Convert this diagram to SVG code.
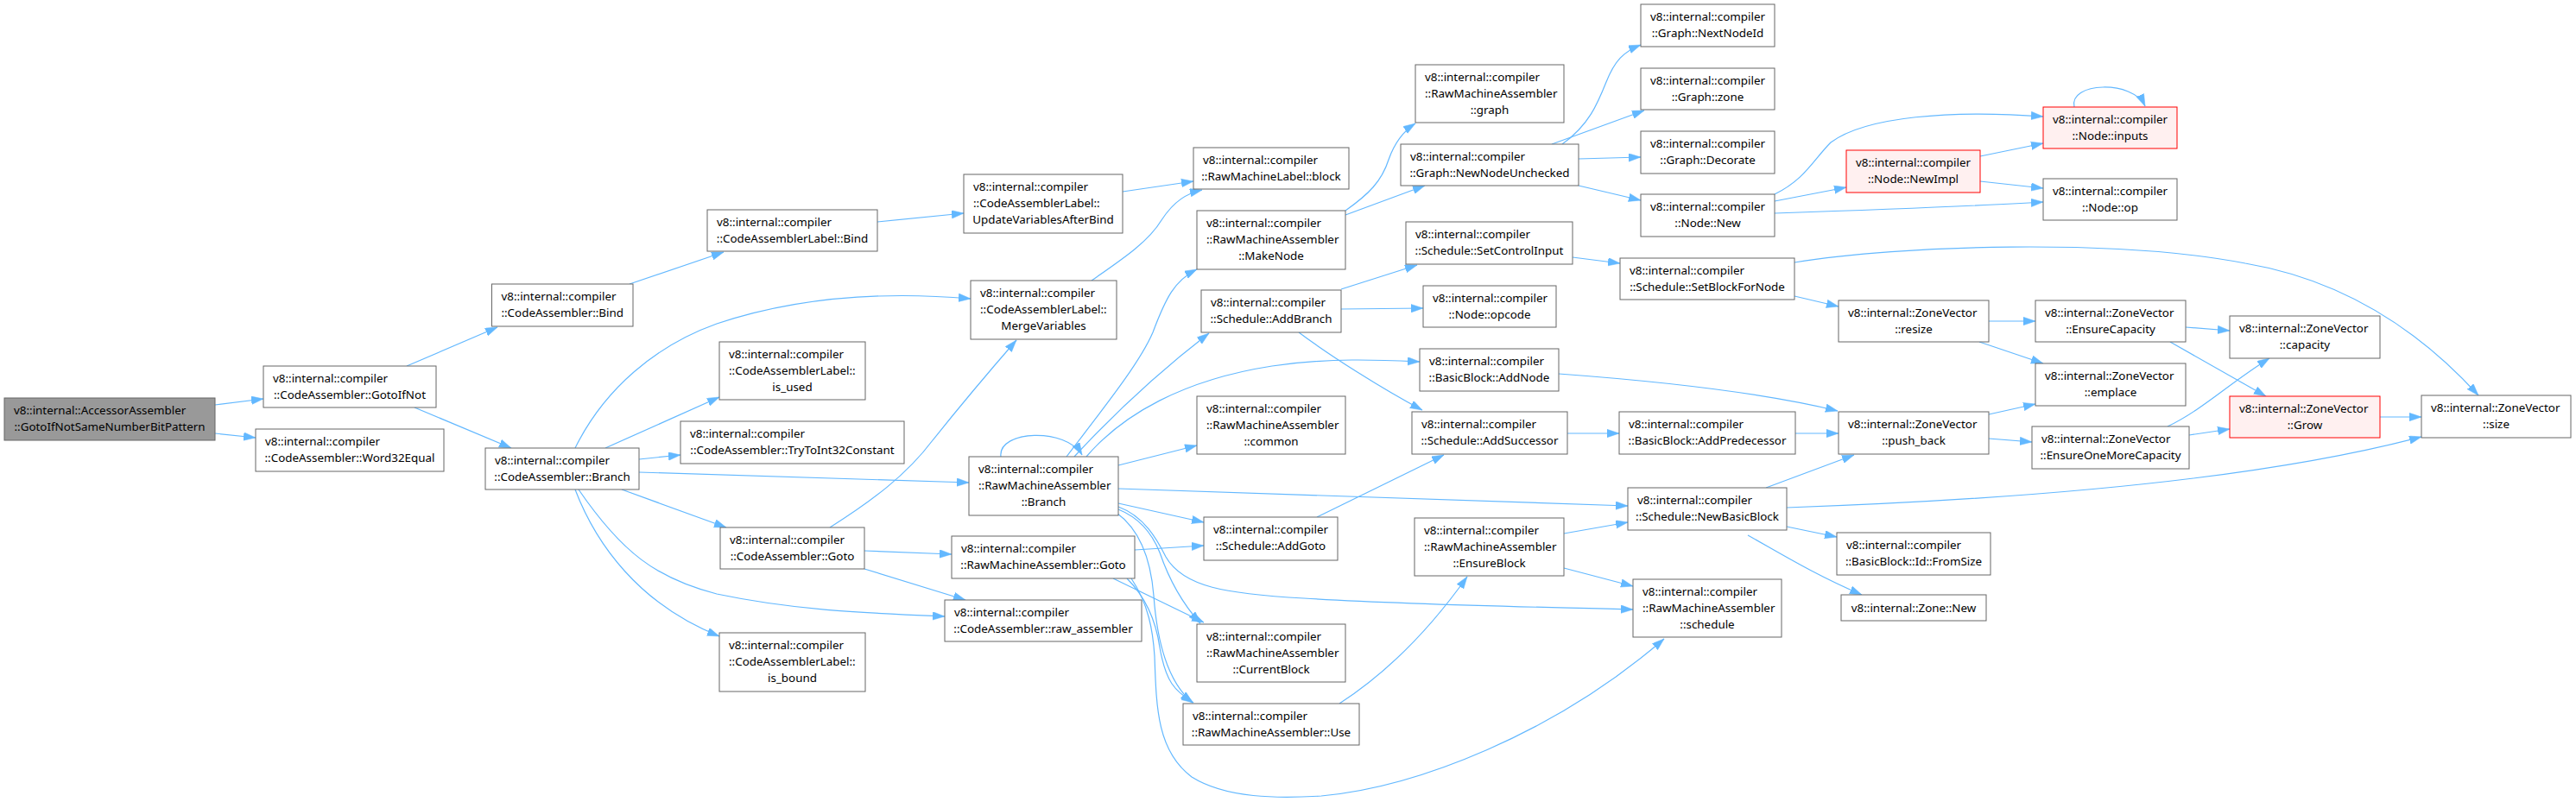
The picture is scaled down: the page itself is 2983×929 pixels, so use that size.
<svg xmlns="http://www.w3.org/2000/svg" width="2983" height="929" viewBox="0 0 2983 929">
<style>
rect{fill:#fff;stroke:#666;stroke-width:1}
.root rect{fill:#999}
.red rect{fill:#fff0f0;stroke:#f00}
text{font-family:"Noto Sans","Open Sans","DejaVu Sans",sans-serif;font-size:13.4px;fill:#000}
.c{text-anchor:middle}
#edges path{fill:none;stroke:#63b8ff;stroke-width:1.2;marker-end:url(#arr)}
</style>
<defs>
<marker id="arr" markerUnits="userSpaceOnUse" markerWidth="15" markerHeight="10" refX="14" refY="4.75" orient="auto">
<path d="M0,0 L14,4.75 L0,9.5 z" fill="#63b8ff" stroke="#63b8ff" stroke-width="0.5"/>
</marker>
</defs>
<rect x="0" y="0" width="2983" height="929" style="fill:#fff;stroke:none"/>
<g id="edges">
<path d="M249,469 L305,462"/>
<path d="M249,502 L296,507"/>
<path d="M471,424 L576,379"/>
<path d="M480,472 L592,519"/>
<path d="M729,329 L838,292"/>
<path d="M1016,257 L1116,247"/>
<path d="M1300,222 L1382,210"/>
<path d="M666,519 C700,450 760,400 830,375 C920,345 1020,337 1124,346"/>
<path d="M701,519 L833,460"/>
<path d="M740,532 L788,527"/>
<path d="M740,547 L1122,559"/>
<path d="M720,567 L841,611"/>
<path d="M670,567 C720,640 760,670 830,688 C920,707 1000,710 1094,714"/>
<path d="M666,567 C690,630 740,700 833,737"/>
<path d="M1264,325 C1300,300 1330,280 1345,255 C1360,232 1375,224 1392,220"/>
<path d="M961,611 C1010,580 1050,550 1080,510 C1120,460 1150,425 1177,394"/>
<path d="M1001,638 L1102,642"/>
<path d="M1001,659 L1118,695"/>
<path d="M1159,529 C1155,498 1235,495 1253,527"/>
<path d="M1235,529 C1280,470 1320,420 1335,385 C1350,345 1360,325 1386,312"/>
<path d="M1244,529 C1280,490 1330,440 1400,386"/>
<path d="M1258,529 C1300,480 1370,440 1473,424 C1540,414 1600,417 1644,419"/>
<path d="M1295,539 L1386,516"/>
<path d="M1295,566 C1500,573 1700,580 1885,586"/>
<path d="M1295,583 L1394,605"/>
<path d="M1295,590 C1320,600 1335,620 1343,640 C1355,675 1370,700 1390,722"/>
<path d="M1293,594 C1315,610 1332,640 1336,690 C1340,745 1352,790 1381,814"/>
<path d="M1295,587 C1325,598 1340,625 1350,645 C1370,680 1420,688 1510,693 C1640,701 1780,703 1891,706"/>
<path d="M1310,670 C1330,700 1335,730 1337,760 C1339,820 1340,870 1380,900 C1420,925 1480,925 1530,922 C1640,912 1800,850 1927,740"/>
<path d="M1314,637 L1394,632"/>
<path d="M1289,670 L1394,721"/>
<path d="M1305,670 C1325,690 1338,715 1343,750 C1350,790 1360,800 1382,814"/>
<path d="M1551,815 C1605,780 1655,730 1699,668"/>
<path d="M1525,599 L1672,527"/>
<path d="M1504,385 C1540,412 1600,450 1647,475"/>
<path d="M1553,335 L1641,307"/>
<path d="M1553,358 L1648,357"/>
<path d="M1558,244 C1585,225 1600,210 1608,185 C1615,165 1625,152 1639,143"/>
<path d="M1558,249 L1650,215"/>
<path d="M1809,167 C1840,145 1850,120 1860,95 C1870,70 1880,60 1900,52"/>
<path d="M1797,167 L1904,128"/>
<path d="M1828,184 L1900,182"/>
<path d="M1828,215 L1900,232"/>
<path d="M2055,225 C2090,208 2100,185 2120,165 C2160,135 2260,127 2366,135"/>
<path d="M2055,233 L2138,217"/>
<path d="M2055,247 C2200,242 2300,238 2366,234"/>
<path d="M2293,181 L2366,166"/>
<path d="M2293,210 L2366,218"/>
<path d="M2402,124 C2395,95 2470,92 2484,123"/>
<path d="M1821,298 L1876,305"/>
<path d="M2078,304 C2200,284 2450,276 2600,305 C2700,322 2790,370 2870,458"/>
<path d="M2078,343 L2129,355"/>
<path d="M2303,372 L2357,372"/>
<path d="M2292,396 L2366,421"/>
<path d="M2531,379 L2582,383"/>
<path d="M2513,396 L2624,459"/>
<path d="M1805,433 C1900,440 2030,452 2128,476"/>
<path d="M1815,502 L1875,502"/>
<path d="M2079,502 L2129,502"/>
<path d="M2045,565 L2147,527"/>
<path d="M2069,588 C2300,580 2600,560 2804,506"/>
<path d="M2069,610 L2127,622"/>
<path d="M2024,620 C2060,640 2100,665 2156,689"/>
<path d="M2303,480 L2357,468"/>
<path d="M2303,508 L2353,512"/>
<path d="M2510,494 C2550,475 2580,445 2628,415"/>
<path d="M2535,504 L2582,497"/>
<path d="M2756,483 L2804,483"/>
<path d="M1811,658 L1891,679"/>
<path d="M1811,618 L1885,605"/>
</g>
<g id="root" class="root"><rect x="5" y="461" width="244" height="49"/><text x="16" y="479.7">v8::internal::AccessorAssembler</text><text class="c" x="127" y="498.7">::GotoIfNotSameNumberBitPattern</text></g>
<g id="n_GotoIfNot"><rect x="305" y="424" width="200" height="48"/><text x="316" y="442.7">v8::internal::compiler</text><text class="c" x="405" y="461.7">::CodeAssembler::GotoIfNot</text></g>
<g id="n_Word32Equal"><rect x="296" y="497" width="218" height="49"/><text x="307" y="515.7">v8::internal::compiler</text><text class="c" x="405" y="534.7">::CodeAssembler::Word32Equal</text></g>
<g id="n_CABind"><rect x="569.5" y="329" width="163.5" height="49"/><text x="580.5" y="347.7">v8::internal::compiler</text><text class="c" x="651.25" y="366.7">::CodeAssembler::Bind</text></g>
<g id="n_CALBind"><rect x="819" y="243" width="197" height="48"/><text x="830" y="261.7">v8::internal::compiler</text><text class="c" x="917.5" y="280.7">::CodeAssemblerLabel::Bind</text></g>
<g id="n_Update"><rect x="1116" y="202" width="184" height="68"/><text x="1127" y="220.7">v8::internal::compiler</text><text x="1127" y="239.7">::CodeAssemblerLabel::</text><text class="c" x="1208" y="258.7">UpdateVariablesAfterBind</text></g>
<g id="n_isused"><rect x="833" y="396" width="169" height="67"/><text x="844" y="414.7">v8::internal::compiler</text><text x="844" y="433.7">::CodeAssemblerLabel::</text><text class="c" x="917.5" y="452.7">is_used</text></g>
<g id="n_CABranch"><rect x="562" y="519" width="178" height="48"/><text x="573" y="537.7">v8::internal::compiler</text><text class="c" x="651" y="556.7">::CodeAssembler::Branch</text></g>
<g id="n_TryToInt32"><rect x="788" y="488" width="259" height="49"/><text x="799" y="506.7">v8::internal::compiler</text><text class="c" x="917.5" y="525.7">::CodeAssembler::TryToInt32Constant</text></g>
<g id="n_CAGoto"><rect x="834" y="611" width="167" height="48"/><text x="845" y="629.7">v8::internal::compiler</text><text class="c" x="917.5" y="648.7">::CodeAssembler::Goto</text></g>
<g id="n_isbound"><rect x="833" y="733" width="169" height="68"/><text x="844" y="751.7">v8::internal::compiler</text><text x="844" y="770.7">::CodeAssemblerLabel::</text><text class="c" x="917.5" y="789.7">is_bound</text></g>
<g id="n_Merge"><rect x="1124" y="325" width="169" height="68"/><text x="1135" y="343.7">v8::internal::compiler</text><text x="1135" y="362.7">::CodeAssemblerLabel::</text><text class="c" x="1208.5" y="381.7">MergeVariables</text></g>
<g id="n_block"><rect x="1382" y="171" width="180" height="48"/><text x="1393" y="189.7">v8::internal::compiler</text><text class="c" x="1472" y="208.7">::RawMachineLabel::block</text></g>
<g id="n_MakeNode"><rect x="1386" y="244" width="172" height="68"/><text x="1397" y="262.7">v8::internal::compiler</text><text x="1397" y="281.7">::RawMachineAssembler</text><text class="c" x="1472" y="300.7">::MakeNode</text></g>
<g id="n_RMABranch"><rect x="1122" y="529" width="173" height="68"/><text x="1133" y="547.7">v8::internal::compiler</text><text x="1133" y="566.7">::RawMachineAssembler</text><text class="c" x="1208.5" y="585.7">::Branch</text></g>
<g id="n_RMAGoto"><rect x="1102" y="621" width="212" height="49"/><text x="1113" y="639.7">v8::internal::compiler</text><text class="c" x="1208" y="658.7">::RawMachineAssembler::Goto</text></g>
<g id="n_rawasm"><rect x="1094" y="695" width="228" height="48"/><text x="1105" y="713.7">v8::internal::compiler</text><text class="c" x="1208" y="732.7">::CodeAssembler::raw_assembler</text></g>
<g id="n_AddBranch"><rect x="1391" y="336" width="162" height="49"/><text x="1402" y="354.7">v8::internal::compiler</text><text class="c" x="1472" y="373.7">::Schedule::AddBranch</text></g>
<g id="n_common"><rect x="1386" y="459" width="172" height="67"/><text x="1397" y="477.7">v8::internal::compiler</text><text x="1397" y="496.7">::RawMachineAssembler</text><text class="c" x="1472" y="515.7">::common</text></g>
<g id="n_AddGoto"><rect x="1394" y="599" width="155" height="50"/><text x="1405" y="617.7">v8::internal::compiler</text><text class="c" x="1471.5" y="636.7">::Schedule::AddGoto</text></g>
<g id="n_CurrentBlock"><rect x="1386" y="723" width="172" height="67"/><text x="1397" y="741.7">v8::internal::compiler</text><text x="1397" y="760.7">::RawMachineAssembler</text><text class="c" x="1472" y="779.7">::CurrentBlock</text></g>
<g id="n_Use"><rect x="1370" y="815" width="204" height="48"/><text x="1381" y="833.7">v8::internal::compiler</text><text class="c" x="1472" y="852.7">::RawMachineAssembler::Use</text></g>
<g id="n_graph"><rect x="1639" y="75" width="172" height="67"/><text x="1650" y="93.7">v8::internal::compiler</text><text x="1650" y="112.7">::RawMachineAssembler</text><text class="c" x="1725" y="131.7">::graph</text></g>
<g id="n_NewNodeUnchecked"><rect x="1622" y="167" width="206" height="48"/><text x="1633" y="185.7">v8::internal::compiler</text><text class="c" x="1725" y="204.7">::Graph::NewNodeUnchecked</text></g>
<g id="n_SetControlInput"><rect x="1628" y="257" width="193" height="49"/><text x="1639" y="275.7">v8::internal::compiler</text><text class="c" x="1724.5" y="294.7">::Schedule::SetControlInput</text></g>
<g id="n_opcode"><rect x="1648" y="331" width="154" height="48"/><text x="1659" y="349.7">v8::internal::compiler</text><text class="c" x="1725" y="368.7">::Node::opcode</text></g>
<g id="n_AddNode"><rect x="1644" y="404" width="161" height="49"/><text x="1655" y="422.7">v8::internal::compiler</text><text class="c" x="1724.5" y="441.7">::BasicBlock::AddNode</text></g>
<g id="n_AddSuccessor"><rect x="1635" y="477" width="180" height="49"/><text x="1646" y="495.7">v8::internal::compiler</text><text class="c" x="1725" y="514.7">::Schedule::AddSuccessor</text></g>
<g id="n_EnsureBlock"><rect x="1638" y="600" width="173" height="67"/><text x="1649" y="618.7">v8::internal::compiler</text><text x="1649" y="637.7">::RawMachineAssembler</text><text class="c" x="1724.5" y="656.7">::EnsureBlock</text></g>
<g id="n_NextNodeId"><rect x="1900" y="5" width="155" height="49"/><text x="1911" y="23.7">v8::internal::compiler</text><text class="c" x="1977.5" y="42.7">::Graph::NextNodeId</text></g>
<g id="n_zone"><rect x="1900" y="79" width="155" height="48"/><text x="1911" y="97.7">v8::internal::compiler</text><text class="c" x="1977.5" y="116.7">::Graph::zone</text></g>
<g id="n_Decorate"><rect x="1900" y="152" width="155" height="49"/><text x="1911" y="170.7">v8::internal::compiler</text><text class="c" x="1977.5" y="189.7">::Graph::Decorate</text></g>
<g id="n_NodeNew"><rect x="1900" y="225" width="155" height="49"/><text x="1911" y="243.7">v8::internal::compiler</text><text class="c" x="1977.5" y="262.7">::Node::New</text></g>
<g id="n_SetBlockForNode"><rect x="1876" y="299" width="202" height="48"/><text x="1887" y="317.7">v8::internal::compiler</text><text class="c" x="1977" y="336.7">::Schedule::SetBlockForNode</text></g>
<g id="n_AddPredecessor"><rect x="1875" y="477" width="204" height="49"/><text x="1886" y="495.7">v8::internal::compiler</text><text class="c" x="1977" y="514.7">::BasicBlock::AddPredecessor</text></g>
<g id="n_NewBasicBlock"><rect x="1885" y="565" width="184" height="49"/><text x="1896" y="583.7">v8::internal::compiler</text><text class="c" x="1977" y="602.7">::Schedule::NewBasicBlock</text></g>
<g id="n_schedule"><rect x="1891" y="671" width="172" height="67"/><text x="1902" y="689.7">v8::internal::compiler</text><text x="1902" y="708.7">::RawMachineAssembler</text><text class="c" x="1977" y="727.7">::schedule</text></g>
<g id="n_NewImpl" class="red"><rect x="2138" y="174" width="155" height="49"/><text x="2149" y="192.7">v8::internal::compiler</text><text class="c" x="2215.5" y="211.7">::Node::NewImpl</text></g>
<g id="n_inputs" class="red"><rect x="2366" y="124" width="155" height="48"/><text x="2377" y="142.7">v8::internal::compiler</text><text class="c" x="2443.5" y="161.7">::Node::inputs</text></g>
<g id="n_op"><rect x="2366" y="207" width="155" height="48"/><text x="2377" y="225.7">v8::internal::compiler</text><text class="c" x="2443.5" y="244.7">::Node::op</text></g>
<g id="n_resize"><rect x="2129" y="348" width="174" height="48"/><text x="2140" y="366.7">v8::internal::ZoneVector</text><text class="c" x="2216" y="385.7">::resize</text></g>
<g id="n_push_back"><rect x="2129" y="477" width="174" height="49"/><text x="2140" y="495.7">v8::internal::ZoneVector</text><text class="c" x="2216" y="514.7">::push_back</text></g>
<g id="n_FromSize"><rect x="2127" y="617" width="178" height="49"/><text x="2138" y="635.7">v8::internal::compiler</text><text class="c" x="2216" y="654.7">::BasicBlock::Id::FromSize</text></g>
<g id="n_ZoneNew"><rect x="2132" y="689" width="168" height="30"/><text class="c" x="2216" y="709">v8::internal::Zone::New</text></g>
<g id="n_EnsureCapacity"><rect x="2357" y="348" width="174" height="48"/><text x="2368" y="366.7">v8::internal::ZoneVector</text><text class="c" x="2444" y="385.7">::EnsureCapacity</text></g>
<g id="n_emplace"><rect x="2357" y="421" width="174" height="49"/><text x="2368" y="439.7">v8::internal::ZoneVector</text><text class="c" x="2444" y="458.7">::emplace</text></g>
<g id="n_EnsureOneMore"><rect x="2353" y="494" width="182" height="49"/><text x="2364" y="512.7">v8::internal::ZoneVector</text><text class="c" x="2444" y="531.7">::EnsureOneMoreCapacity</text></g>
<g id="n_capacity"><rect x="2582" y="366" width="174" height="49"/><text x="2593" y="384.7">v8::internal::ZoneVector</text><text class="c" x="2669" y="403.7">::capacity</text></g>
<g id="n_Grow" class="red"><rect x="2582" y="459" width="174" height="48"/><text x="2593" y="477.7">v8::internal::ZoneVector</text><text class="c" x="2669" y="496.7">::Grow</text></g>
<g id="n_size"><rect x="2804" y="458" width="173" height="49"/><text x="2815" y="476.7">v8::internal::ZoneVector</text><text class="c" x="2890.5" y="495.7">::size</text></g>
</svg>
